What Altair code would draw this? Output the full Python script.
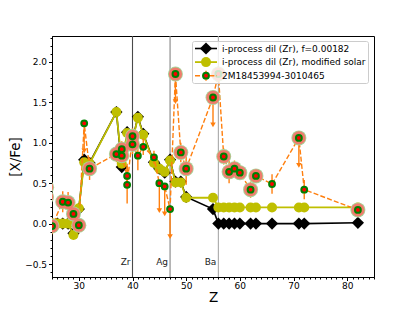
import altair as alt
import pandas as pd

# ---- data ----
model_z = [25, 26, 27, 28, 29, 30, 31, 32, 37, 38, 39, 40, 41, 42, 44, 45, 46, 47, 48, 49, 50,
           55, 56, 57, 58, 59, 60, 62, 63, 66, 71, 72, 82]
model_black = [0.0, 0.0, 0.0, 0.0, -0.12, 0.18, 0.79, 0.75, 1.38, 0.70, 1.13, 1.03, 1.32, 1.11,
               0.76, 0.68, 0.63, 0.79, 0.52, 0.52, 0.33,
               0.18, 0.0, 0.0, 0.0, 0.0, 0.0, 0.0, 0.0, 0.0, 0.0, 0.0, 0.01]
model_yellow = [0.0, 0.0, 0.0, 0.0, -0.14, 0.19, 0.76, 0.74, 1.38, 0.74, 1.12, 1.03, 1.31, 1.10,
                0.75, 0.68, 0.64, 0.78, 0.51, 0.51, 0.32,
                0.32, 0.20, 0.20, 0.20, 0.20, 0.20, 0.20, 0.20, 0.20, 0.20, 0.20, 0.20]

obs_z = [24, 24, 25, 27, 28, 29, 30, 31, 32, 37, 38, 38, 39, 39, 40, 40, 41, 42, 44, 45, 46, 47,
         48, 49, 50, 55, 56, 57, 58, 59, 60, 62, 63, 66, 71, 72, 82]
obs_val = [0.45, 0.33, -0.03, 0.27, 0.26, 0.12, -0.02, 1.24, 0.68, 0.86, 0.92, 0.84, 0.59, 0.48,
           1.08, 0.98, 0.84, 0.95, 0.82, 0.50, 0.46, 0.18, 1.85, 0.88, 0.68, 1.56, 1.85, 0.83,
           0.64, 0.68, 0.63, 0.42, 0.59, 0.49, 1.06, 0.42, 0.17]
obs_err = [0.10, 0.10, 0.10, 0.13, 0.13, 0.10, 0.10, 0.10, 0.14, 0.10, 0.10, 0.10, 0.15, 0.23,
           0.10, 0.12, 0.18, 0.10, 0.08, 0.10, 0.10, 0.10, 0.10, 0.12, 0.20, 0.10, 0.10, 0.10,
           0.14, 0.10, 0.08, 0.10, 0.08, 0.12, 0.10, 0.12, 0.05]
obs_halo = [1, 1, 1, 1, 1, 1, 1, 0, 1, 1, 1, 1, 0, 0, 1, 1, 0, 0, 0, 0, 0, 0,
            1, 1, 1, 1, 1, 1, 1, 1, 1, 1, 1, 0, 1, 0, 1]
obs_uplim = [0, 0, 0, 0, 0, 0, 0, 1, 0, 0, 0, 0, 0, 0, 0, 0, 0, 0, 0, 1, 1, 1,
             1, 0, 0, 1, 0, 0, 0, 0, 0, 0, 0, 0, 1, 0, 0]
uplim_len = 0.34

marker_z = [40, 47, 56]
marker_lbl = ["Zr", "Ag", "Ba"]
marker_col = ["#4a4a4a", "#858585", "#a8a8a8"]
marker_y = -0.47

legend_labels = ["i-process dil (Zr), f=0.00182",
                 "i-process dil (Zr), modified solar",
                 "2M18453994-3010465"]

x_major = [30, 40, 50, 60, 70, 80]
x_minor = list(range(25, 86))
y_major = [-0.5, 0.0, 0.5, 1.0, 1.5, 2.0]
y_minor = [round(-0.6 + 0.1 * i, 2) for i in range(30)]

# ---- tables ----
model = pd.DataFrame({"z": model_z, "black": model_black, "yellow": model_yellow})
obs = pd.DataFrame({"z": obs_z, "v": obs_val, "err": obs_err,
                    "halo": obs_halo, "ul": obs_uplim})
obs["i"] = range(len(obs))
obs["lo"] = obs["v"] - obs["err"]
obs["hi"] = obs["v"] + obs["err"]
obs["ulend"] = obs["v"] - uplim_len
marks = pd.DataFrame({"z": marker_z, "lbl": marker_lbl, "col": marker_col, "y": marker_y})

FONT = "DejaVu Sans"
xs = alt.Scale(domain=[25, 85], nice=False, zero=False)
ys = alt.Scale(domain=[-0.66, 2.32], nice=False, zero=False)

x_axis = alt.Axis(values=x_major, format="d", title="Z", titleFontSize=13.5,
                  titleFontWeight="normal", titlePadding=0, labelFontSize=9,
                  labelPadding=1, tickSize=3.5, grid=False, domainColor="black",
                  tickColor="black", labelColor="black", titleColor="black", labelFont=FONT,
                  titleFont=FONT)
y_axis = alt.Axis(values=y_major, title="[X/Fe]", titleFontSize=13.5, titleFontWeight="normal",
                  titlePadding=2, labelFontSize=9, labelPadding=2, tickSize=3.5, grid=False,
                  labelExpr="replace(format(datum.value, '.1f'), '-', '\u2212')",
                  domainColor="black", tickColor="black", labelColor="black",
                  titleColor="black", labelFont=FONT, titleFont=FONT)

base_m = alt.Chart(model)

# vertical element markers
vlines = alt.Chart(marks).mark_rule(strokeWidth=1.1).encode(
    x=alt.X("z:Q", scale=xs, axis=x_axis),
    color=alt.Color("col:N", scale=None),
)
vtext = alt.Chart(marks).mark_text(align="right", baseline="middle", dx=-2, fontSize=9,
                                   font=FONT, color="#222222").encode(
    x=alt.X("z:Q", scale=xs), y=alt.Y("y:Q", scale=ys, axis=y_axis), text="lbl:N")

# model black
black_line = base_m.mark_line(color="black", strokeWidth=1.6, clip=True).encode(
    x=alt.X("z:Q", scale=xs), y=alt.Y("black:Q", scale=ys))
black_pts = base_m.mark_point(shape="diamond", filled=True, color="black", size=150,
                              opacity=1, clip=True).encode(
    x=alt.X("z:Q", scale=xs), y=alt.Y("black:Q", scale=ys))
# model yellow
yel_line = base_m.mark_line(color="#bfbf00", strokeWidth=1.8, clip=True).encode(
    x=alt.X("z:Q", scale=xs), y=alt.Y("yellow:Q", scale=ys))
yel_pts = base_m.mark_circle(color="#bfbf00", size=100, opacity=1, clip=True).encode(
    x=alt.X("z:Q", scale=xs), y=alt.Y("yellow:Q", scale=ys))

# observations
base_o = alt.Chart(obs)
obs_line = base_o.mark_line(color="#ff7f0e", strokeWidth=1.4, strokeDash=[5, 2.2],
                            clip=True).encode(
    x=alt.X("z:Q", scale=xs), y=alt.Y("v:Q", scale=ys), order="i:Q")
err_bar = base_o.transform_filter("datum.ul == 0").mark_rule(
    color="#ff7f0e", strokeWidth=1.4, clip=True).encode(
    x=alt.X("z:Q", scale=xs), y=alt.Y("lo:Q", scale=ys), y2="hi:Q")
ul_bar = base_o.transform_filter("datum.ul == 1").mark_rule(
    color="#ff7f0e", strokeWidth=1.4, clip=True).encode(
    x=alt.X("z:Q", scale=xs), y=alt.Y("v:Q", scale=ys), y2="ulend:Q")
ul_head = base_o.transform_filter("datum.ul == 1").mark_point(
    shape="triangle-down", filled=True, color="#ff7f0e", size=30, opacity=1,
    clip=True).encode(x=alt.X("z:Q", scale=xs), y=alt.Y("ulend:Q", scale=ys))
halo_out = base_o.transform_filter("datum.halo == 1").mark_circle(
    color="#a8d49a", size=225, opacity=1, clip=True).encode(
    x=alt.X("z:Q", scale=xs), y=alt.Y("v:Q", scale=ys))
halo_in = base_o.transform_filter("datum.halo == 1").mark_circle(
    color="#f07c6c", size=175, opacity=1, clip=True).encode(
    x=alt.X("z:Q", scale=xs), y=alt.Y("v:Q", scale=ys))
dots = base_o.mark_point(shape="circle", filled=True, fill="#ff0000", stroke="#008000",
                         strokeWidth=2, size=34, opacity=1, clip=True).encode(
    x=alt.X("z:Q", scale=xs), y=alt.Y("v:Q", scale=ys))

# minor ticks
minor_x = alt.Chart(pd.DataFrame({"z": x_minor})).mark_point(opacity=0).encode(
    x=alt.X("z:Q", scale=xs, axis=alt.Axis(values=x_minor, labels=False, tickSize=2,
                                           domain=False, grid=False, title=None,
                                           orient="bottom", tickColor="black")))
minor_y = alt.Chart(pd.DataFrame({"y": y_minor})).mark_point(opacity=0).encode(
    y=alt.Y("y:Q", scale=ys, axis=alt.Axis(values=y_minor, labels=False, tickSize=2,
                                           domain=False, grid=False, title=None,
                                           orient="left", tickColor="black")))

# legend (drawn inside the plot, top right)
leg = pd.DataFrame({"label": legend_labels, "row": [0, 1, 2]})
leg["ypix"] = 12.5 + 13.6 * leg["row"]
leg["xs"] = 143.0
leg["xe"] = 165.0
leg["xm"] = 154.0
leg["xt"] = 170.0
leg["y0"] = leg["ypix"] - 5
leg["y1"] = leg["ypix"] + 5
lb = alt.Chart(leg)
px = lambda f: alt.X(f, scale=None, axis=None)
py = lambda f: alt.Y(f, scale=None, axis=None)
leg_box = alt.Chart(pd.DataFrame({"a": [0]})).mark_rect(
    fill="white", fillOpacity=0.8, stroke="#cccccc", strokeWidth=1, cornerRadius=2).encode(
    x=alt.value(140.5), x2=alt.value(316.5), y=alt.value(5.5), y2=alt.value(47.5))
leg_l0 = lb.transform_filter("datum.row == 0").mark_rule(color="black", strokeWidth=1.6).encode(
    x=px("xs:Q"), x2="xe:Q", y=py("ypix:Q"))
leg_p0 = lb.transform_filter("datum.row == 0").mark_point(
    shape="diamond", filled=True, color="black", size=150, opacity=1).encode(
    x=px("xm:Q"), y=py("ypix:Q"))
leg_l1 = lb.transform_filter("datum.row == 1").mark_rule(color="#bfbf00", strokeWidth=1.8).encode(
    x=px("xs:Q"), x2="xe:Q", y=py("ypix:Q"))
leg_p1 = lb.transform_filter("datum.row == 1").mark_circle(
    color="#bfbf00", size=100, opacity=1).encode(
    x=px("xm:Q"), y=py("ypix:Q"))
leg_l2 = lb.transform_filter("datum.row == 2").mark_rule(
    color="#ff7f0e", strokeWidth=1.4, strokeDash=[5, 2.2]).encode(
    x=px("xs:Q"), x2="xe:Q", y=py("ypix:Q"))
leg_e2 = lb.transform_filter("datum.row == 2").mark_rule(
    color="#ff7f0e", strokeWidth=1.4).encode(x=px("xm:Q"), y=py("y0:Q"), y2="y1:Q")
leg_p2 = lb.transform_filter("datum.row == 2").mark_point(
    shape="circle", filled=True, fill="#ff0000", stroke="#008000", strokeWidth=2, size=34,
    opacity=1).encode(x=px("xm:Q"), y=py("ypix:Q"))
leg_t = lb.mark_text(align="left", baseline="middle", fontSize=9, font=FONT,
                     color="black").encode(x=px("xt:Q"), y=py("ypix:Q"), text="label:N")

main = alt.layer(
    vlines, vtext, black_line, black_pts, yel_line, yel_pts,
    obs_line, err_bar, ul_bar, ul_head, halo_out, halo_in, dots,
    leg_box, leg_l0, leg_p0, leg_l1, leg_p1, leg_l2, leg_e2, leg_p2, leg_t,
)

chart = alt.layer(main, minor_x, minor_y).resolve_axis(
    x="independent", y="independent"
).properties(
    width=322, height=241,
    autosize=alt.AutoSizeParams(type="none"),
    padding={"left": 44, "top": 28, "right": 30, "bottom": 30},
    background="white",
).configure_view(stroke="black", strokeWidth=1)

chart.save("out.html", embed_options={"renderer": "svg", "actions": False})
